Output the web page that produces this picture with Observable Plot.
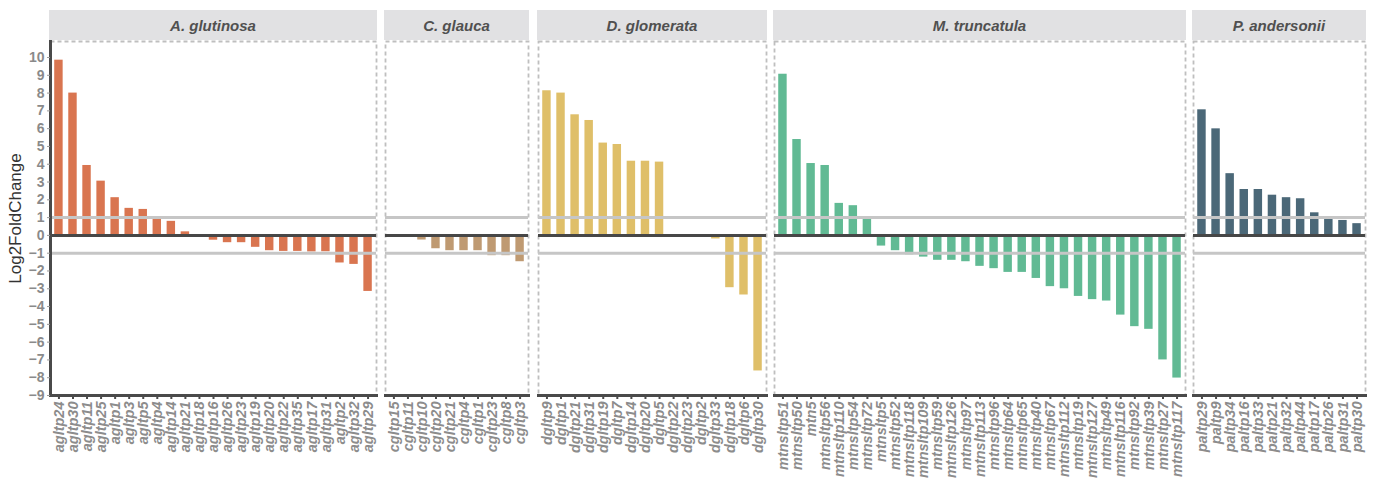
<!DOCTYPE html>
<html>
<head>
<meta charset="utf-8">
<script src="https://cdn.jsdelivr.net/npm/d3@7"></script>
<script src="https://cdn.jsdelivr.net/npm/@observablehq/plot@0.6"></script>
<style>
  body { margin: 0; background: #fff; font-family: "Liberation Sans", Arial, sans-serif; }
  #chart { position: relative; width: 1373px; height: 479px; overflow: hidden; }
  .panel { position: absolute; top: 0; }
  .strip { position: absolute; top: 10px; height: 30px; background: #e1e1e3; color: #505050;
           font: italic bold 15px "Liberation Sans", Arial, sans-serif;
           display: flex; align-items: center; justify-content: center; }
</style>
</head>
<body>
<div id="chart"></div>
<script>
// ---- data ----
const species = ["A. glutinosa", "C. glauca", "D. glomerata", "M. truncatula", "P. andersonii"];
const colors = ["#d97550", "#bf9a72", "#dfbf69", "#61ba94", "#4b6878"];

const aGenes = ["agltp24","agltp30","agltp11","agltp25","agltp1","agltp3","agltp5","agltp4","agltp14","agltp21","agltp18","agltp16","agltp26","agltp23","agltp19","agltp20","agltp22","agltp35","agltp17","agltp31","agltp2","agltp32","agltp29"];
const aValues = [9.85, 8.0, 3.93, 3.05, 2.12, 1.52, 1.46, 0.97, 0.79, 0.2, 0.02, -0.27, -0.41, -0.41, -0.67, -0.86, -0.9, -0.9, -0.93, -0.92, -1.55, -1.63, -3.15];

const cGenes = ["cgltp15","cgltp11","cgltp10","cgltp20","cgltp21","cgltp4","cgltp1","cgltp23","cgltp8","cgltp3"];
const cValues = [0, 0, -0.26, -0.75, -0.86, -0.86, -0.86, -1.14, -1.14, -1.48];

const dGenes = ["dgltp9","dgltp1","dgltp21","dgltp31","dgltp19","dgltp7","dgltp14","dgltp20","dgltp5","dgltp22","dgltp23","dgltp2","dgltp33","dgltp18","dgltp6","dgltp30"];
const dValues = [8.13, 8.0, 6.78, 6.46, 5.19, 5.11, 4.17, 4.17, 4.12, 0, 0, 0, -0.2, -2.94, -3.35, -7.62];

const mGenes = ["mtnsltp51","mtnsltp50","mtn5","mtnsltp56","mtnsltp110","mtnsltp54","mtnsltp72","mtnsltp5","mtnsltp52","mtnsltp118","mtnsltp109","mtnsltp59","mtnsltp126","mtnsltp97","mtnsltp113","mtnsltp96","mtnsltp64","mtnsltp65","mtnsltp40","mtnsltp67","mtnsltp112","mtnsltp19","mtnsltp127","mtnsltp49","mtnsltp116","mtnsltp92","mtnsltp39","mtnsltp27","mtnsltp117"];
const mValues = [9.06, 5.39, 4.04, 3.93, 1.8, 1.67, 0.96, -0.6, -0.86, -1.09, -1.22, -1.4, -1.4, -1.48, -1.74, -1.87, -2.08, -2.08, -2.42, -2.88, -3.0, -3.43, -3.61, -3.69, -4.48, -5.13, -5.28, -7.0, -8.02];

const pGenes = ["paltp29","paltp9","paltp34","paltp16","paltp33","paltp21","paltp32","paltp44","paltp17","paltp26","paltp31","paltp30"];
const pValues = [7.06, 5.99, 3.47, 2.58, 2.58, 2.26, 2.12, 2.06, 1.27, 0.94, 0.84, 0.66];

const yTicks = d3.range(-9, 11);
const yLabel = "Log2FoldChange";

// ---- layout ----
const geneSets = [aGenes, cGenes, dGenes, mGenes, pGenes];
const valueSets = [aValues, cValues, dValues, mValues, pValues];
const panelLeft = [50, 385, 538, 774, 1193];
const panelWidth = [326, 143, 228, 411, 172];

const chart = document.getElementById("chart");

species.forEach((sp, i) => {
  const data = geneSets[i].map((g, j) => ({gene: g, value: valueSets[i][j]}));
  const first = i === 0;
  const mL = first ? 50 : 2, mR = 2;
  const marks = [
    Plot.frame({stroke: "#bfbfbf", strokeWidth: 1.8, strokeDasharray: "4,3"}),
    Plot.barY(data, {x: "gene", y: "value", fill: colors[i]}),
    Plot.ruleY([1, -1], {stroke: "#c6c6c6", strokeWidth: 3}),
    Plot.ruleY([0], {stroke: "#474747", strokeWidth: 3}),
    Plot.frame({anchor: "bottom", stroke: "#4a4a4a", strokeWidth: 3}),
    Plot.axisX({tickRotate: -90, tickSize: 4, tickPadding: 2, fontSize: 14.5, fontStyle: "italic",
                fontWeight: "bold", fill: "#8c8c8c", stroke: "#4a4a4a", strokeWidth: 2, label: null})
  ];
  if (first) {
    marks.push(
      Plot.frame({anchor: "left", stroke: "#4a4a4a", strokeWidth: 3}),
      Plot.axisY({ticks: yTicks, tickFormat: d3.format("d"), tickSize: 3, tickPadding: 3, fontSize: 14,
                  fontWeight: "bold", fill: "#8a8a8a", stroke: "#9a9a9a", label: null}),
      Plot.text([yLabel], {frameAnchor: "left", dx: -35, rotate: -90, textAnchor: "middle",
                           fontSize: 17, fill: "#333"})
    );
  } else {
    marks.push(Plot.axisY({ticks: [], label: null}));
  }
  const svg = Plot.plot({
    width: panelWidth[i] + mL + mR,
    height: 479,
    marginTop: 41,
    marginBottom: 84,
    marginLeft: mL,
    marginRight: mR,
    x: {type: "band", domain: geneSets[i], paddingInner: 0.4, paddingOuter: 0.3, round: false},
    y: {domain: [-9, 10.9]},
    style: {fontFamily: "'Liberation Sans', Arial, sans-serif", background: "transparent", overflow: "visible"},
    marks
  });
  const div = document.createElement("div");
  div.className = "panel";
  div.style.left = (panelLeft[i] - mL) + "px";
  div.appendChild(svg);
  chart.appendChild(div);

  const strip = document.createElement("div");
  strip.className = "strip";
  strip.style.left = (panelLeft[i] - 1) + "px";
  strip.style.width = (panelWidth[i] + 2) + "px";
  strip.textContent = sp;
  chart.appendChild(strip);
});
</script>
</body>
</html>
